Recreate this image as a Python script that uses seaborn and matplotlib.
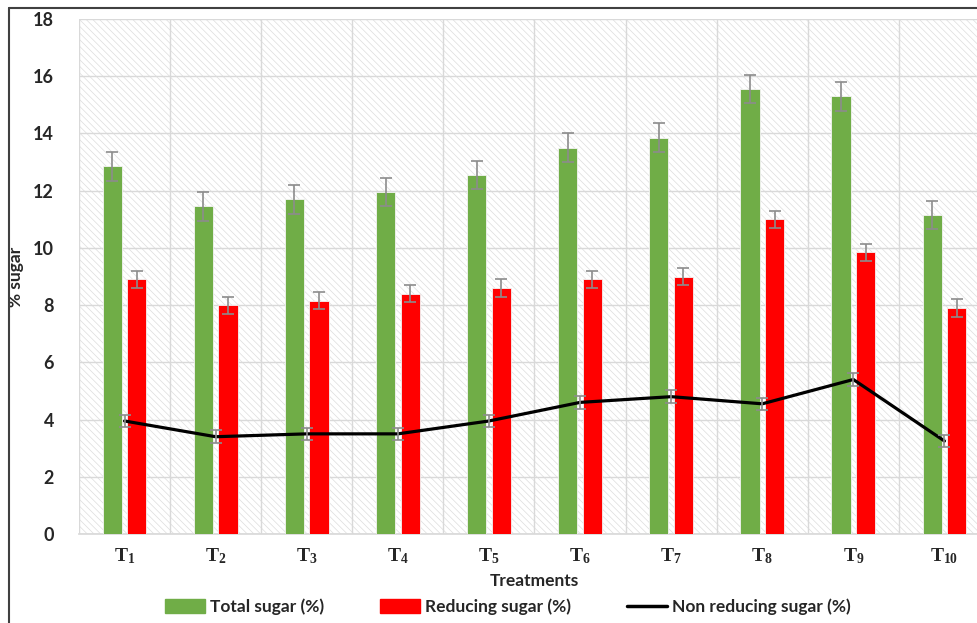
import numpy as np
import pandas as pd
import matplotlib
matplotlib.use('Agg')
import matplotlib.pyplot as plt
import seaborn as sns
from matplotlib.patches import Rectangle
from matplotlib.lines import Line2D

# data
treatments = ['T1', 'T2', 'T3', 'T4', 'T5', 'T6', 'T7', 'T8', 'T9', 'T10']
tick_labels = [r'$\mathbf{T_{%d}}$' % i for i in range(1, 11)]
total_sugar = [12.85, 11.45, 11.7, 11.95, 12.55, 13.5, 13.85, 15.55, 15.3, 11.15]
reducing_sugar = [8.9, 8.0, 8.15, 8.4, 8.6, 8.9, 9.0, 11.0, 9.85, 7.9]
non_reducing = [3.95, 3.4, 3.5, 3.5, 3.95, 4.6, 4.8, 4.55, 5.4, 3.25]
total_err = [0.5] * 10
reducing_err = [0.3] * 10
non_reducing_err = [0.22] * 10

sns.set_theme(style='white')
plt.rcParams['font.family'] = ['Lato', 'DejaVu Sans']
plt.rcParams['mathtext.fontset'] = 'custom'
plt.rcParams['mathtext.bf'] = 'Liberation Serif:bold'
plt.rcParams['mathtext.rm'] = 'Liberation Serif'
plt.rcParams['hatch.color'] = '#dddddd'
plt.rcParams['hatch.linewidth'] = 0.5

df = pd.DataFrame({
    'Treatment': treatments * 2,
    'Value': total_sugar + reducing_sugar,
    'Series': ['Total sugar (%)'] * 10 + ['Reducing sugar (%)'] * 10,
})

fig = plt.figure(figsize=(9.78, 6.23), dpi=100)
ax = fig.add_axes([79 / 978, 1 - 534 / 623, (990 - 79) / 978, (534 - 19) / 623])

sns.barplot(data=df, x='Treatment', y='Value', hue='Series',
            palette=['#70ad47', '#ff0000'], width=0.54, gap=0.22,
            saturation=1, ax=ax, legend=False, zorder=3,
            edgecolor='#f4f4f4', linewidth=0.6)

# error bars on each bar, placed from the bar containers
for cont, errs in zip(ax.containers, [total_err, reducing_err]):
    for p, e in zip(cont.patches, errs):
        xc = p.get_x() + p.get_width() / 2
        ax.errorbar(xc, p.get_height(), yerr=e, color='#8c8c8c', lw=1.2,
                    capsize=4, capthick=1.2, zorder=4)

x = np.arange(len(treatments))
ax.plot(x, non_reducing, color='black', lw=2.3, zorder=5)
ax.errorbar(x, non_reducing, yerr=non_reducing_err, fmt='none', ecolor='#8c8c8c',
            lw=1.2, capsize=4, capthick=1.2, zorder=6)

# hatched background
ax.add_patch(Rectangle((0, 0), 1, 1, transform=ax.transAxes, facecolor='white',
                       edgecolor='#dddddd', hatch='\\' * 5, lw=0, zorder=0))

ax.set_xlim(-0.5, 9.5)
ax.set_ylim(0, 18)
ax.set_yticks(np.arange(0, 19, 2))
ax.set_xticks(x)
ax.set_xticklabels(tick_labels, fontsize=14)
ax.set_xticks(np.arange(-0.5, 10, 1), minor=True)
ax.tick_params(axis='x', which='major', length=0, pad=9)
ax.tick_params(axis='x', which='minor', length=6, color='#d9d9d9', width=1)
ax.tick_params(axis='y', length=0, pad=18, labelsize=13)
for lab in ax.get_yticklabels():
    lab.set_fontweight('bold')
ax.grid(axis='y', color='#d9d9d9', lw=1, zorder=1)
ax.grid(axis='x', which='minor', color='#d9d9d9', lw=1, zorder=1)
ax.set_axisbelow(True)
for s in ['top', 'right', 'left']:
    ax.spines[s].set_visible(False)
ax.spines['bottom'].set_color('#d9d9d9')

ax.set_xlabel('Treatments', fontsize=12.5, fontweight='bold', labelpad=5)
ax.set_ylabel('% sugar', fontsize=12.5, fontweight='bold')
ax.yaxis.set_label_coords(-55 / 911, 0.5)

handles = [Rectangle((0, 0), 1, 1, color='#70ad47'),
           Rectangle((0, 0), 1, 1, color='#ff0000'),
           Line2D([0], [0], color='black', lw=2.5)]
fig.legend(handles, ['Total sugar (%)', 'Reducing sugar (%)', 'Non reducing sugar (%)'],
           loc='center', bbox_to_anchor=(508 / 978, 1 - 607 / 623), ncol=3, frameon=False,
           prop={'weight': 'bold', 'size': 12.5}, handlelength=2.3, handleheight=0.9,
           columnspacing=3.2, handletextpad=0.3)

# outer border (left and top visible)
fig.add_artist(Line2D([8.5 / 978, 8.5 / 978], [0, 1 - 7.5 / 623], color='#404040',
                      lw=1.5, transform=fig.transFigure))
fig.add_artist(Line2D([8.5 / 978, 1], [1 - 7.5 / 623, 1 - 7.5 / 623], color='#404040',
                      lw=1.5, transform=fig.transFigure))

fig.savefig('out.png', dpi=100)
